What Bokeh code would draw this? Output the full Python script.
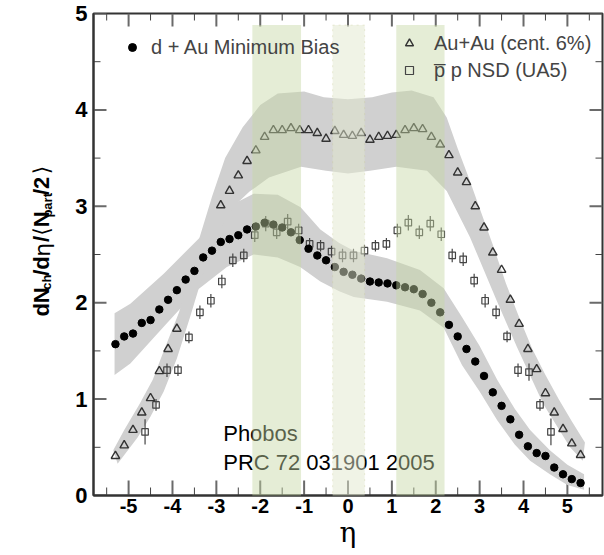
import numpy as np
from bokeh.plotting import figure
from bokeh.layouts import row
from bokeh.models import (LinearAxis, BoxAnnotation, FixedTicker,
                          Legend, LegendItem, Range1d)
from bokeh.core.properties import value
from bokeh.embed import file_html
from bokeh.resources import INLINE

# ---------------- data ----------------
dau_eta = [-5.3, -5.1, -4.9, -4.7, -4.5, -4.3, -4.1, -3.9, -3.7, -3.5,
           -3.3, -3.1, -2.9, -2.7, -2.5, -2.3, -2.1, -1.9, -1.7, -1.5,
           -1.3, -1.1, -0.9, -0.7, -0.5, -0.3, -0.1, 0.1, 0.3, 0.5,
           0.7, 0.9, 1.1, 1.3, 1.5, 1.7, 1.9, 2.1, 2.3, 2.5,
           2.7, 2.9, 3.1, 3.3, 3.5, 3.7, 3.9, 4.1, 4.3, 4.5,
           4.7, 4.9, 5.1, 5.3]
dau_val = [1.57, 1.65, 1.68, 1.79, 1.82, 1.93, 2.03, 2.13, 2.24, 2.33,
           2.47, 2.54, 2.63, 2.66, 2.70, 2.76, 2.79, 2.83, 2.81, 2.78,
           2.73, 2.65, 2.56, 2.49, 2.44, 2.37, 2.32, 2.29, 2.25, 2.22,
           2.21, 2.20, 2.18, 2.16, 2.14, 2.09, 2.00, 1.90, 1.77, 1.65,
           1.52, 1.39, 1.24, 1.07, 0.93, 0.79, 0.63, 0.51, 0.44, 0.41,
           0.29, 0.22, 0.17, 0.13]

auau_eta = [-5.3, -5.1, -4.9, -4.7, -4.5, -4.3, -4.1, -3.9,
            -2.9, -2.7, -2.5, -2.3, -2.1, -1.9, -1.7, -1.5, -1.3, -1.1,
            -0.9, -0.7, -0.5, -0.3, -0.1, 0.1, 0.3, 0.5, 0.7, 0.9,
            1.1, 1.3, 1.5, 1.7, 1.9, 2.1, 2.3, 2.5, 2.7, 2.9,
            3.1, 3.3, 3.5, 3.7, 3.9, 4.1, 4.3, 4.5, 4.7, 4.9, 5.1, 5.3]
auau_val = [0.41, 0.52, 0.68, 0.86, 1.01, 1.29, 1.52, 1.73,
            3.01, 3.16, 3.32, 3.47, 3.58, 3.72, 3.79, 3.79, 3.81, 3.79,
            3.79, 3.76, 3.70, 3.78, 3.74, 3.73, 3.76, 3.69, 3.72, 3.73,
            3.74, 3.79, 3.81, 3.80, 3.72, 3.64, 3.53, 3.35, 3.25, 3.00,
            2.78, 2.52, 2.34, 2.03, 1.78, 1.52, 1.31, 1.06, 0.86, 0.69, 0.54, 0.42]

ua5_eta = [-4.625, -4.375, -4.125, -3.875, -3.625, -3.375, -3.125, -2.875,
           -2.625, -2.375, -2.125, -1.875, -1.625, -1.375, -1.125, -0.875,
           -0.625, -0.375, -0.125, 0.125, 0.375, 0.625, 0.875, 1.125,
           1.375, 1.625, 1.875, 2.125, 2.375, 2.625, 2.875, 3.125,
           3.375, 3.625, 3.875, 4.125, 4.375, 4.625]
ua5_val = [0.66, 0.94, 1.30, 1.30, 1.64, 1.90, 2.02, 2.22,
           2.44, 2.49, 2.70, 2.82, 2.73, 2.84, 2.75, 2.61,
           2.59, 2.53, 2.49, 2.49, 2.54, 2.59, 2.61, 2.75,
           2.83, 2.73, 2.82, 2.71, 2.49, 2.45, 2.23, 2.02,
           1.90, 1.65, 1.30, 1.28, 0.94, 0.66]
ua5_err = [0.13, 0.06, 0.07, 0.06, 0.06, 0.07, 0.07, 0.07,
           0.07, 0.07, 0.07, 0.08, 0.07, 0.08, 0.07, 0.06,
           0.06, 0.06, 0.07, 0.07, 0.06, 0.06, 0.06, 0.07,
           0.08, 0.07, 0.08, 0.07, 0.07, 0.07, 0.07, 0.07,
           0.07, 0.06, 0.07, 0.09, 0.06, 0.14]

# systematic-error bands (outline)
dau_band_up_eta = [-5.32, -4.96, -4.2, -3.37, -2.8, -2.15, -1.6, -1.08, -0.63, -0.2,
                   0.13, 0.89, 1.64, 2.18, 2.6, 3.0, 3.4, 3.8, 4.15, 4.6, 5.0, 5.38]
dau_band_up = [1.89, 1.99, 2.30, 2.68, 2.98, 3.13, 3.12, 2.99, 2.76, 2.62,
               2.54, 2.46, 2.34, 2.15, 1.85, 1.55, 1.20, 0.90, 0.68, 0.47, 0.32, 0.22]
dau_band_lo_eta = [-5.32, -4.96, -4.2, -3.44, -2.76, -2.15, -1.6, -1.09, -0.63, -0.2,
                   0.13, 0.89, 1.64, 2.18, 2.6, 3.0, 3.4, 3.8, 4.15, 4.6, 5.0, 5.38]
dau_band_lo = [1.25, 1.37, 1.75, 2.13, 2.37, 2.50, 2.47, 2.37, 2.22, 2.12,
               2.06, 2.01, 1.92, 1.74, 1.35, 1.08, 0.78, 0.53, 0.36, 0.22, 0.11, 0.06]

auau_band_up_eta = [-5.35, -5.1, -4.75, -4.45, -4.2, -3.85, -3.4, -3.1, -2.8, -2.4,
                    -2.0, -1.6, -1.0, -0.55, 0.0, 0.55, 1.0, 1.45, 1.95, 2.25,
                    2.5, 2.75, 3.0, 3.3, 3.6, 3.9, 4.2, 4.5, 4.8, 5.1, 5.4]
auau_band_up = [0.47, 0.68, 0.95, 1.20, 1.50, 1.90, 2.65, 3.10, 3.50, 3.82,
                4.05, 4.17, 4.19, 4.13, 4.11, 4.13, 4.18, 4.20, 4.13, 3.92,
                3.60, 3.30, 2.98, 2.60, 2.20, 1.85, 1.52, 1.25, 1.00, 0.77, 0.55]
auau_band_lo_eta = [-5.25, -4.8, -4.5, -4.2, -3.9, -3.6, -3.3, -3.0, -2.6, -2.25,
                    -1.8, -1.07, -0.5, 0.0, 0.5, 1.1, 1.8, 2.25, 2.78, 3.39,
                    3.85, 4.45, 5.06, 5.35]
auau_band_lo = [0.33, 0.60, 0.82, 1.08, 1.42, 1.85, 2.30, 2.70, 3.00, 3.15,
                3.30, 3.41, 3.37, 3.34, 3.37, 3.41, 3.37, 3.16, 2.68, 2.02,
                1.54, 0.95, 0.50, 0.36]

# highlighted eta windows
win_lo = [-2.18, -0.35, 1.10]
win_hi = [-1.07, 0.38, 2.20]

x_ticks = [-5, -4, -3, -2, -1, 0, 1, 2, 3, 4, 5]
x_tick_labels = ["-5", "-4", "-3", "-2", "-1", "0", "1", "2", "3", "4", "5"]
y_ticks = [0, 1, 2, 3, 4, 5]
y_tick_labels = ["0", "1", "2", "3", "4", "5"]
x_minor = [-5.5, -4.5, -3.5, -2.5, -1.5, -0.5, 0.5, 1.5, 2.5, 3.5, 4.5, 5.5]
y_minor = [0.5, 1.5, 2.5, 3.5, 4.5]

label_dau = "d + Au Minimum Bias"
label_auau = "Au+Au (cent. 6%)"
label_ua5 = "p\u0305 p NSD (UA5)"
note_lines = ["Phobos", "PRC 72 031901 2005"]
x_title = "\u03b7"
# y title pieces: text, size(px), weight, font, centre x (px), start y (px from top)
y_title_pieces = [("dN", 22, "bold", "Liberation Sans", 41, 349),
                  ("ch", 13, "bold", "Liberation Sans", 46, 318),
                  ("/d", 22, "bold", "Liberation Sans", 41, 302),
                  ("\u03b7", 22, "normal", "DejaVu Sans", 42, 280),
                  ("/", 22, "bold", "Liberation Sans", 41, 263),
                  ("\u27e8", 22, "normal", "DejaVu Sans", 41, 256),
                  ("N", 22, "bold", "Liberation Sans", 41, 246),
                  ("part", 13, "bold", "Liberation Sans", 47, 235),
                  ("/2", 22, "bold", "Liberation Sans", 41, 209),
                  ("\u27e9", 22, "normal", "DejaVu Sans", 41, 185)]

FONT = "Liberation Sans"
LAB_W = 60
W, H = 604, 555

# ---------------- y-title strip ----------------
lab = figure(width=LAB_W, height=H, x_range=Range1d(0, LAB_W), y_range=Range1d(0, H),
             x_axis_type=None, y_axis_type=None, output_backend="svg",
             toolbar_location=None, min_border=0)
lab.outline_line_color = None
lab.background_fill_color = "white"
lab.border_fill_color = "white"
for txt, fs, fw, fnt, cx, sy in y_title_pieces:
    lab.text(x=[cx], y=[H - sy], text=[txt], angle=np.pi / 2,
             text_align="left", text_baseline="middle",
             text_font=value(fnt), text_font_size=f"{fs}px",
             text_font_style=fw, text_color="black")

# ---------------- main figure ----------------
p = figure(width=W - LAB_W, height=H, x_range=Range1d(-5.8, 5.8), y_range=Range1d(0, 5),
           x_axis_type=None, y_axis_type=None, output_backend="svg",
           toolbar_location=None, min_border_left=33, min_border_right=2,
           min_border_top=13, min_border_bottom=60)
p.background_fill_color = "white"
p.border_fill_color = "white"
p.outline_line_color = "#333333"
p.outline_line_width = 2

xb = LinearAxis(ticker=FixedTicker(ticks=x_ticks),
                major_label_overrides=dict(zip(x_ticks, x_tick_labels)))
yl = LinearAxis(ticker=FixedTicker(ticks=y_ticks),
                major_label_overrides=dict(zip(y_ticks, y_tick_labels)))
for ax, fs in ((xb, "20px"), (yl, "22px")):
    ax.axis_line_color = "#333333"
    ax.axis_line_width = 2
    ax.major_tick_in = 0
    ax.major_tick_out = 0
    ax.minor_tick_in = 0
    ax.minor_tick_out = 0
    ax.major_label_text_font = FONT
    ax.major_label_text_font_style = "bold"
    ax.major_label_text_font_size = fs
    ax.major_label_text_color = "black"
xb.major_label_standoff = 3
yl.major_label_standoff = 6
xb.axis_label = x_title
xb.axis_label_text_font = "DejaVu Serif"
xb.axis_label_text_font_style = "normal"
xb.axis_label_text_font_size = "28px"
xb.axis_label_text_color = "black"
xb.axis_label_standoff = 0
p.add_layout(xb, "below")
p.add_layout(yl, "left")

# tick marks on all four sides (inward), from the tick lists
px_x = 43.88   # px per eta unit
px_y = 96.4    # px per y unit
xt = np.array(x_ticks, dtype=float)
xm = np.array(x_minor)
yt = np.array(y_ticks, dtype=float)
ym = np.array(y_minor)
tick_major = dict(line_color="#6a6a6a", line_width=2)
tick_minor = dict(line_color="#444444", line_width=1)
p.segment(xt, 0, xt, 15 / px_y, **tick_major)
p.segment(xm, 0, xm, 8 / px_y, **tick_minor)
p.segment(xt, 5, xt, 5 - 13 / px_y, **tick_major)
p.segment(xm, 5, xm, 5 - 7 / px_y, **tick_minor)
p.segment(-5.8, yt, -5.8 + 13 / px_x, yt, **tick_major)
p.segment(-5.8, ym, -5.8 + 7 / px_x, ym, **tick_minor)
p.segment(5.8, yt, 5.8 - 13 / px_x, yt, **tick_major)
p.segment(5.8, ym, 5.8 - 7 / px_x, ym, **tick_minor)

# systematic bands
p.patch(dau_band_up_eta + dau_band_lo_eta[::-1], dau_band_up + dau_band_lo[::-1],
        fill_color="#d0d0d0", line_color=None)
p.patch(auau_band_up_eta + auau_band_lo_eta[::-1], auau_band_up + auau_band_lo[::-1],
        fill_color="#d0d0d0", line_color=None)

# UA5 error bars + points
ua5_e = np.array(ua5_eta)
ua5_v = np.array(ua5_val)
ua5_s = np.array(ua5_err)
p.segment(x0=ua5_e, y0=ua5_v - ua5_s, x1=ua5_e, y1=ua5_v + ua5_s,
          line_color="#444444", line_width=1.2)
r_ua5 = p.scatter(ua5_eta, ua5_val, marker="square", size=6.5, fill_color="white",
                  fill_alpha=0.0, line_color="#444444", line_width=1.2)
r_auau = p.scatter(auau_eta, auau_val, marker="triangle", size=8.5, fill_color=None,
                   line_color="#333333", line_width=1.4)
r_dau = p.scatter(dau_eta, dau_val, marker="circle", size=7.5, color="black")

# note text
p.text(x=[-2.844, -2.844], y=[0.646, 0.345], text=note_lines,
       text_font=value(FONT), text_font_size="22px", text_color="black",
       text_baseline="middle", text_align="left")

# legends
leg1 = Legend(items=[LegendItem(label=label_dau, renderers=[r_dau])],
              location=(29, 436), orientation="vertical",
              background_fill_alpha=0, border_line_color=None,
              padding=0, margin=0, glyph_width=20, glyph_height=24,
              label_height=24, label_standoff=9, spacing=3,
              label_text_font=FONT, label_text_font_size="20px")
leg2 = Legend(items=[LegendItem(label=label_auau, renderers=[r_auau]),
                     LegendItem(label=label_ua5, renderers=[r_ua5])],
              location=(306, 413), orientation="vertical",
              background_fill_alpha=0, border_line_color=None,
              padding=0, margin=0, glyph_width=20, glyph_height=24,
              label_height=24, label_standoff=15, spacing=3,
              label_text_font=FONT, label_text_font_size="20px")
p.add_layout(leg1, "center")
p.add_layout(leg2, "center")

# highlighted eta windows (drawn over the data)
for i, (lo, hi) in enumerate(zip(win_lo, win_hi)):
    if i == 1:
        box = BoxAnnotation(left=lo, right=hi, bottom=-0.11, top=4.88,
                            fill_color="#e1e8cd", fill_alpha=0.5,
                            line_color="#c8c890", line_dash="dotted", line_width=1)
    else:
        box = BoxAnnotation(left=lo, right=hi, bottom=-0.11, top=4.88,
                            fill_color="#c6d7a4", fill_alpha=0.45,
                            line_color=None)
    p.add_layout(box)

layout = row(lab, p)
open("out.html", "w").write(file_html(layout, INLINE))
